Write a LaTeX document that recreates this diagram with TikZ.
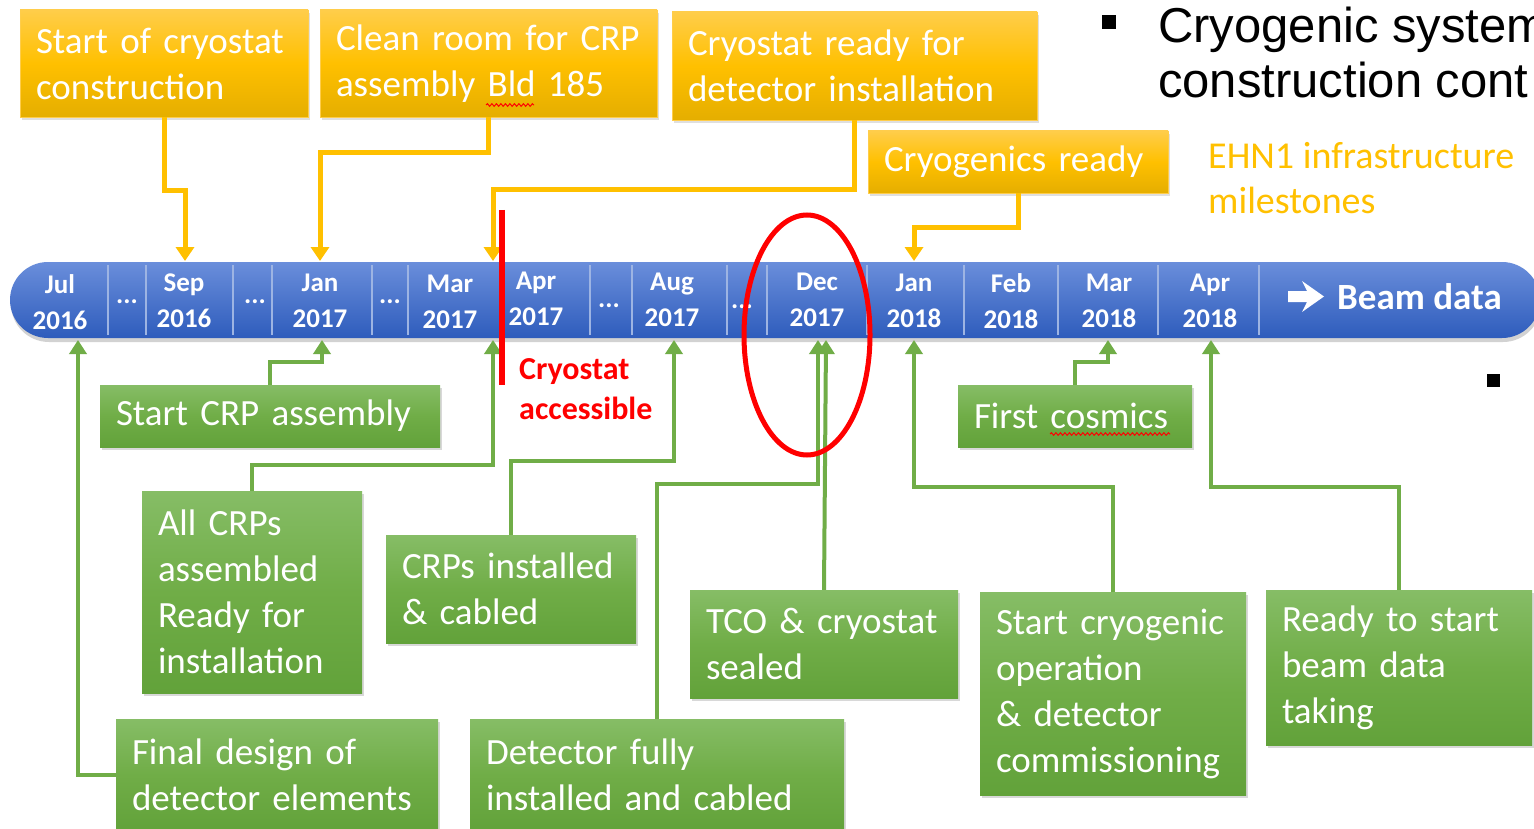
\documentclass[tikz,border=0pt]{standalone}
\usepackage{fontspec}
\setmainfont{Carlito}
\newfontfamily\titlefont{Liberation Sans}
\usetikzlibrary{arrows.meta,shadows,decorations.pathmorphing}
\definecolor{ybar}{HTML}{FFC000}
\definecolor{ytop}{HTML}{FFCD4A}
\definecolor{ybot}{HTML}{E5AE00}
\definecolor{gmid}{HTML}{70AD47}
\definecolor{gtop}{HTML}{86BD66}
\definecolor{gbot}{HTML}{62A23A}
\definecolor{btop}{HTML}{6A8EDB}
\definecolor{bbot}{HTML}{2E5CBC}
\definecolor{bdiv}{HTML}{9DB4E3}
\definecolor{redc}{HTML}{FF0000}
\tikzset{
  boxtext/.style={align=left, inner xsep=16pt, inner ysep=0pt,
    font=\fontsize{37pt}{46pt}\selectfont, text=white},
  ybox/.style={boxtext, top color=ytop, bottom color=ybot, middle color=ybar,
    draw=ytop, line width=0.8pt,
    drop shadow={opacity=0.25,shadow xshift=2pt,shadow yshift=-3pt}},
  gbox/.style={boxtext, top color=gtop, bottom color=gbot, middle color=gmid,
    drop shadow={opacity=0.3,shadow xshift=2pt,shadow yshift=-3pt}},
  yconn/.style={draw=ybar, line width=5pt, -{Triangle[width=18pt,length=14pt]}},
  gconn/.style={draw=gmid, line width=4pt, -{Triangle[width=17pt,length=14pt]}},
  mlabel/.style={text=white, align=center, inner sep=0pt,
    font=\bfseries\fontsize{27pt}{36pt}\selectfont},
  dots/.style={text=white, inner sep=0pt, anchor=base,
    font=\bfseries\fontsize{27pt}{36pt}\selectfont},
  squig/.style={draw=redc, line width=1pt, decorate,
    decoration={snake, amplitude=1.3pt, segment length=4.5pt}},
}
\begin{document}
\begin{tikzpicture}[x=1pt,y=-1pt]
\useasboundingbox (0,0) rectangle (1534,829);
\fill[white] (0,0) rectangle (1534,829);
\clip (0,0) rectangle (1534,829);

% timeline bar
\path[top color=btop, bottom color=bbot, rounded corners=38pt,
  drop shadow={opacity=0.35,shadow xshift=1pt,shadow yshift=-4pt}]
  (10,262) rectangle (1540,338);
\foreach \x in {108,146,233,272,372,408,500,590,632,727,767,867,964,1058,1158,1259}
  \draw[bdiv, line width=2pt] (\x,265) -- (\x,335);

\node[mlabel] (m1) at (60,302) {Jul\\2016};
\node[dots] (d1) at (127,303) {...};
\node[mlabel] (m2) at (184,301) {Sep\\2016};
\node[dots] (d2) at (255,303) {...};
\node[mlabel] (m3) at (320,301) {Jan\\2017};
\node[dots] (d3) at (390,303) {...};
\node[mlabel] (m4) at (450,302) {Mar\\2017};
\node[mlabel] (m5) at (536,299) {Apr\\2017};
\node[dots] (d4) at (609,307) {...};
\node[mlabel] (m6) at (672,300) {Aug\\2017};
\node[dots] (d5) at (742,308) {...};
\node[mlabel] (m7) at (817,300) {Dec\\2017};
\node[mlabel] (m8) at (914,301) {Jan\\2018};
\node[mlabel] (m9) at (1011,301) {Feb\\2018};
\node[mlabel] (m10) at (1109,301) {Mar\\2018};
\node[mlabel] (m11) at (1210,301) {Apr\\2018};
\fill[white] (1288,291) -- (1307,291) -- (1302,281) -- (1324,296.5)
  -- (1302,312) -- (1307,302) -- (1288,302) -- cycle;
\node[text=white, anchor=west, inner sep=0pt,
  font=\bfseries\fontsize{37pt}{40pt}\selectfont] (beam) at (1337,297) {Beam data};

% arrow tip coordinates
\coordinate (ty1) at (185,261);
\coordinate (ty2) at (320,261);
\coordinate (ty3) at (493,261);
\coordinate (ty4) at (914,261);
\coordinate (tg1) at (78,340);
\coordinate (tg2) at (322,340);
\coordinate (tg3) at (493,340);
\coordinate (tg4) at (674,340);
\coordinate (tg5) at (818,340);
\coordinate (tg6) at (826,340);
\coordinate (tg7) at (914,340);
\coordinate (tg8) at (1108,340);
\coordinate (tg9) at (1211,340);

% yellow boxes
\node[ybox, text width=256pt, minimum height=107pt] (Y1) at (164,63.5)
  {Start of cryostat\\construction};
\node[ybox, text width=305pt, minimum height=107pt] (Y2) at (488.5,63.5)
  {Clean room for CRP\\assembly Bld 185};
\node[ybox, text width=333pt, minimum height=108pt] (Y3) at (854.5,66)
  {Cryostat ready for\\detector installation};
\node[ybox, text width=268pt, minimum height=62pt] (Y4) at (1018,162)
  {Cryogenics ready};
\draw[squig] (486,105) -- (534,105);

\draw[yconn] (Y1.south) -- ++(0,73) -| (ty1);
\draw[yconn] (Y2.south) -- ++(0,35) -| (ty2);
\draw[yconn] (Y3.south) -- ++(0,69) -| (ty3);
\draw[yconn] (Y4.south) -- ++(0,34) -| (ty4);

% green boxes
\node[gbox, text width=308pt, minimum height=62pt] (G1) at (270,416)
  {Start CRP assembly};
\node[gbox, text width=188pt, minimum height=202pt] (G2) at (252,592)
  {All CRPs\\assembled\\Ready for\\installation};
\node[gbox, text width=218pt, minimum height=108pt] (G3) at (511,589)
  {CRPs installed\\\& cabled};
\node[gbox, text width=290pt, minimum height=112pt] (G4) at (277,775)
  {Final design of\\detector elements};
\node[gbox, text width=342pt, minimum height=112pt] (G5) at (657,775)
  {Detector fully\\installed and cabled};
\node[gbox, text width=236pt, minimum height=108pt] (G6) at (824,644)
  {TCO \& cryostat\\sealed};
\node[gbox, text width=202pt, minimum height=62pt] (G7) at (1075,416)
  {First cosmics};
\node[gbox, text width=234pt, minimum height=203pt] (G8) at (1113,693.5)
  {Start cryogenic\\operation\\\& detector\\commissioning};
\node[gbox, text width=234pt, minimum height=155pt] (G9) at (1399,667.5)
  {Ready to start\\beam data\\taking};
\draw[squig] (1050,434) -- (1170,434);

\draw[gconn] (G1.north) -- ++(0,-23) -| (tg2);
\draw[gconn] (G2.north) -- ++(0,-26) -| (tg3);
\draw[gconn] (G3.north) -- ++(0,-74) -| (tg4);
\draw[gconn] (G4.west) -| (tg1);
\draw[gconn] (G5.north) -- ++(0,-235) -| (tg5);
\draw[gconn] (G6.north) -- (tg6);
\draw[gconn] (G7.north) -- ++(0,-23) -| (tg8);
\draw[gconn] (G8.north) -- ++(0,-105) -| (tg7);
\draw[gconn] (G9.north) -- ++(0,-103) -| (tg9);

% red marker and ellipse
\draw[redc, line width=6pt] (502,210) -- (502,385);
\node[text=redc, anchor=west, align=left, inner sep=0pt,
  font=\bfseries\fontsize{32pt}{40pt}\selectfont] (acc) at (519,389)
  {Cryostat\\accessible};
\draw[redc, line width=5pt] (807,335) ellipse [x radius=63, y radius=120];

% right-hand texts
\node[text=ybar, anchor=west, align=left, inner sep=0pt,
  font=\fontsize{38pt}{45pt}\selectfont] (ehn) at (1208,178)
  {EHN1 infrastructure\\milestones};
\fill[black] (1102,15) rectangle (1116,29);
\node[anchor=base west, inner sep=0pt, font=\titlefont\fontsize{49pt}{56pt}\selectfont]
  (t1) at (1158,43) {Cryogenic system};
\node[anchor=base west, inner sep=0pt, font=\titlefont\fontsize{49pt}{56pt}\selectfont]
  (t2) at (1158,98) {construction cont};
\fill[black] (1487,374) rectangle (1500,387);
\end{tikzpicture}
\end{document}
